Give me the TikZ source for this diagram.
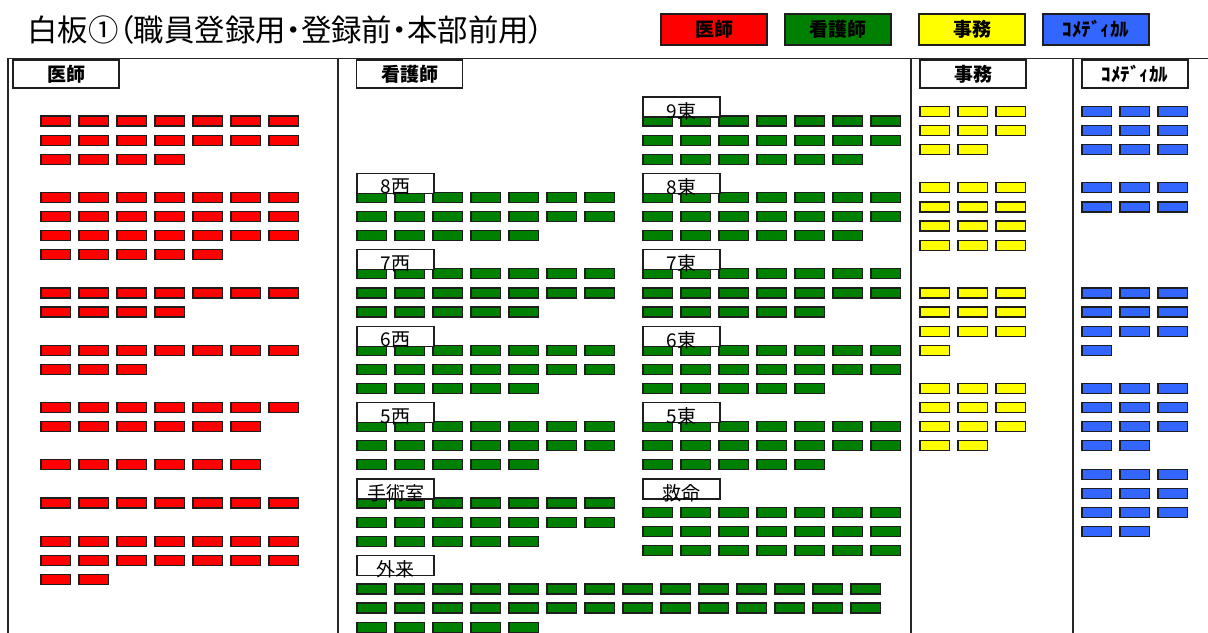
\documentclass[tikz,border=0pt]{standalone}
\usepackage{fontspec}
\setmainfont{Noto Sans CJK JP}
\newfontfamily\titlefont{Noto Sans CJK JP}[RawFeature=+palt]
\definecolor{docred}{RGB}{255,0,0}
\definecolor{nursegreen}{RGB}{0,128,0}
\definecolor{clerkyellow}{RGB}{255,255,0}
\definecolor{comedblue}{RGB}{51,102,255}
\definecolor{rim}{RGB}{30,30,30}
\newcommand{\cardrow}[4]{%
  \foreach \k in {1,...,#4}
    \draw[card,fill=#1] ({#2+38*(\k-1)},{116+19.1*(#3)}) rectangle +(29.5,10);}
\newcommand{\wardtext}[1]{\raisebox{-2pt}[\height][\depth]{#1}}

\begin{document}
\begin{tikzpicture}[x=0.5pt,y=-0.5pt,
  card/.style={draw=rim,line width=0.6pt},
  frame/.style={draw=black!85,line width=0.7pt},
  keybox/.style={draw=rim,line width=0.7pt,minimum width=53pt,minimum height=15.5pt,inner sep=0pt,font=\bfseries\fontsize{9.5}{10}\selectfont},
  headbox/.style={draw=rim,fill=white,line width=0.7pt,minimum width=53pt,minimum height=14pt,inner sep=0pt,font=\bfseries\fontsize{9.5}{10}\selectfont},
  wardbox/.style={draw=rim,fill=white,line width=0.6pt,minimum width=38.5pt,minimum height=10pt,inner sep=0pt,font=\fontsize{9.5}{9.5}\selectfont}]
  \useasboundingbox (0,0) rectangle (1208,632);
  \clip (0,0) rectangle (1208,632);

  \node[anchor=west,inner sep=0pt,font=\titlefont\fontsize{15.2}{16}\selectfont] (title) at (27,30) {白板①（職員登録用・登録前・本部前用）};

  \node[keybox,fill=docred] (keydoc) at (714,29.5) {医師};
  \node[keybox,fill=nursegreen] (keynurse) at (838,29.5) {看護師};
  \node[keybox,fill=clerkyellow] (keyclerk) at (972,29.5) {事務};
  \node[keybox,fill=comedblue] (keycomed) at (1096,29.5) {ｺﾒﾃﾞｨｶﾙ};

  \draw[frame] (8,640) -- (8,58.5) -- (1215,58.5);
  \foreach \fx in {338,911,1073} \draw[frame] (\fx,58.5) -- (\fx,640);

  \node[headbox] (headdoc) at (66,74) {医師};
  \node[headbox] (headnurse) at (409.5,74) {看護師};
  \node[headbox] (headclerk) at (973,74) {事務};
  \node[headbox] (headcomed) at (1135,74) {ｺﾒﾃﾞｨｶﾙ};

  % doctors
  \foreach \rw/\num in {0/7,1/7,2/4,4/7,5/7,6/7,7/5,9/7,10/4,12/7,13/3,15/7,16/6,18/6,20/7,22/7,23/7,24/2}
    {\cardrow{docred}{41}{\rw}{\num}}
  % nurses, west wards and outpatients
  \foreach \rw/\num in {4/7,5/7,6/5,8/7,9/7,10/5,12/7,13/7,14/5,16/7,17/7,18/5,20/7,21/7,22/5,24.5/14,25.5/14,26.5/5}
    {\cardrow{nursegreen}{357}{\rw}{\num}}
  % nurses, east wards and emergency
  \foreach \rw/\num in {0/7,1/7,2/6,4/7,5/7,6/6,8/7,9/7,10/5,12/7,13/7,14/5,16/7,17/7,18/5,20.5/7,21.5/7,22.5/7}
    {\cardrow{nursegreen}{643}{\rw}{\num}}
  % clerks
  \foreach \rw/\num in {-0.5/3,0.5/3,1.5/2,3.5/3,4.5/3,5.5/3,6.5/3,9/3,10/3,11/3,12/1,14/3,15/3,16/3,17/2}
    {\cardrow{clerkyellow}{920}{\rw}{\num}}
  % co-medical
  \foreach \rw/\num in {-0.5/3,0.5/3,1.5/3,3.5/3,4.5/3,9/3,10/3,11/3,12/1,14/3,15/3,16/3,17/2,18.5/3,19.5/3,20.5/3,21.5/2}
    {\cardrow{comedblue}{1082}{\rw}{\num}}

  \node[wardbox] (west8) at (395.5,183.3) {\wardtext{8西}};
  \node[wardbox] (west7) at (395.5,259.7) {\wardtext{7西}};
  \node[wardbox] (west6) at (395.5,336.1) {\wardtext{6西}};
  \node[wardbox] (west5) at (395.5,412.5) {\wardtext{5西}};
  \node[wardbox] (surgery) at (395.5,488.9) {\wardtext{手術室}};
  \node[wardbox] (outpat) at (395.5,565.3) {\wardtext{外来}};
  \node[wardbox] (east9) at (681.5,106.9) {\wardtext{9東}};
  \node[wardbox] (east8) at (681.5,183.3) {\wardtext{8東}};
  \node[wardbox] (east7) at (681.5,259.7) {\wardtext{7東}};
  \node[wardbox] (east6) at (681.5,336.1) {\wardtext{6東}};
  \node[wardbox] (east5) at (681.5,412.5) {\wardtext{5東}};
  \node[wardbox] (rescue) at (681.5,488.9) {\wardtext{救命}};
\end{tikzpicture}
\end{document}
